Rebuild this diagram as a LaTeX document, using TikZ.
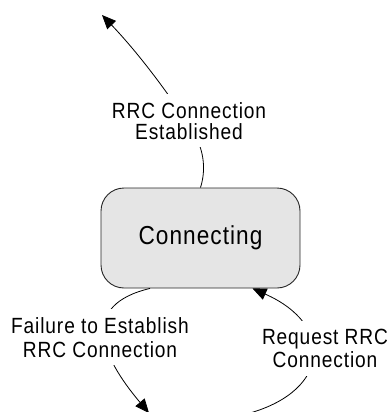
\documentclass[tikz,border=0pt]{standalone}
\usepackage{fontspec}
\setmainfont{Liberation Sans}[FakeStretch=0.87, LetterSpace=4]
\usetikzlibrary{arrows.meta}
\begin{document}
\begin{tikzpicture}[x=1pt,y=-1pt,
  state/.style={draw=black!85, fill=black!10, line width=0.9pt, rounded corners=23pt,
    minimum width=199pt, minimum height=100pt, inner sep=0pt,
    font=\fontsize{26}{30}\selectfont},
  lbl/.style={fill=white, inner xsep=4pt, inner ysep=8pt, align=center},
  conn/.style={line width=0.8pt, -{Triangle[length=14pt,width=12pt]}}]
\useasboundingbox (0,0) rectangle (390,412);
\node[state] (connecting) at (200.5,238) {Connecting};
\coordinate (up) at (102,15);
\coordinate (hid1) at (195,135);
\coordinate (down) at (149,413);
\coordinate (below) at (250,413);
\draw[conn] (connecting.north) .. controls (206,170) and (204,152) .. (hid1)
  .. controls (180,110) and (145,60) .. (up);
\draw[conn] ([xshift=-50.5pt]connecting.south) .. controls (80,305) and (100,355) .. (down);
\draw[conn] (below) .. controls (330,390) and (335,325) .. ([xshift=52pt]connecting.south);
\node[lbl, font=\fontsize{22}{21}\selectfont] (established) at (189,120.7) {RRC Connection\\Established};
\node[lbl, font=\fontsize{22}{24}\selectfont] (failure) at (100,337.3) {Failure to Establish\\RRC Connection};
\node[lbl, font=\fontsize{22}{23}\selectfont] (request) at (325,348.6) {Request RRC\\Connection};
\end{tikzpicture}
\end{document}
